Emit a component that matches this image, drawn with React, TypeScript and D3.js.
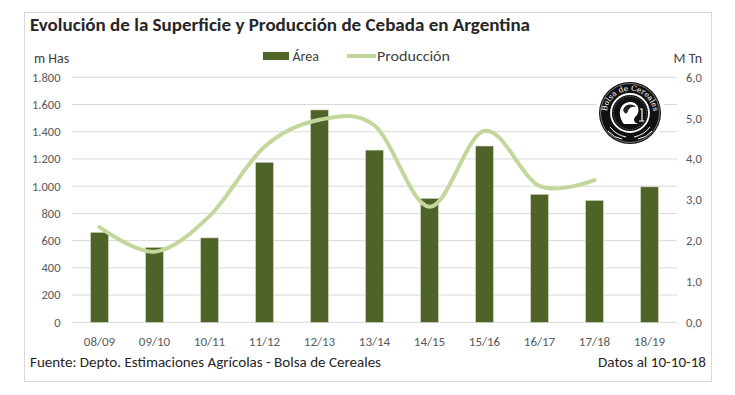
import React, { useEffect, useRef } from "react";
import * as d3 from "d3";

const categories = ["08/09", "09/10", "10/11", "11/12", "12/13", "13/14", "14/15", "15/16", "16/17", "17/18", "18/19"];
// area in thousand hectares
const area = [660, 550, 620, 1175, 1560, 1265, 910, 1295, 940, 895, 995];
// production in million tonnes (no value for 18/19)
const produccion: (number | null)[] = [2.33, 1.73, 2.6, 4.3, 4.96, 4.82, 2.83, 4.69, 3.34, 3.48, null];
const leftTicks = [0, 200, 400, 600, 800, 1000, 1200, 1400, 1600, 1800];
const rightTicks = [0, 1, 2, 3, 4, 5, 6];

const W = 735;
const H = 395;
const FONT = "Carlito, Lato, 'Open Sans', sans-serif";
const BAR = "#4f6228";
const LINE = "#c3d69b";

const locale = d3.formatLocale({ decimal: ",", thousands: ".", grouping: [3], currency: ["", ""] });

const App = () => {
  const svgRef = useRef<SVGSVGElement>(null);

  useEffect(() => {
    const svg = d3.select(svgRef.current);
    svg.selectAll("*").remove();

    const left = 72, right = 677, top = 77.3, bottom = 322.3;

    const x = d3.scaleBand().domain(categories).range([left, right]).paddingInner(0.68).paddingOuter(0.34);
    const yL = d3.scaleLinear().domain([0, 1800]).range([bottom, top]);
    const yR = d3.scaleLinear().domain([0, 6]).range([bottom, top]);
    const cx = (c: string) => (x(c) as number) + x.bandwidth() / 2;

    // frame
    svg.append("rect")
      .attr("x", 24.5).attr("y", 12.5).attr("width", 687).attr("height", 369)
      .attr("fill", "#fff").attr("stroke", "#d9d9d9");

    // gridlines
    svg.append("g")
      .selectAll("line")
      .data(leftTicks)
      .join("line")
      .attr("x1", left).attr("x2", right)
      .attr("y1", (d) => yL(d)).attr("y2", (d) => yL(d))
      .attr("stroke", "#d9d9d9").attr("stroke-width", 1);

    // left tick labels
    const fmtL = locale.format(",");
    svg.append("g")
      .selectAll("text")
      .data(leftTicks)
      .join("text")
      .attr("x", 60.5).attr("y", (d) => yL(d)).attr("dy", "0.35em")
      .attr("text-anchor", "end")
      .attr("font-family", FONT).attr("font-size", 12.5).attr("fill", "#595959")
      .text((d) => fmtL(d));

    // right tick labels
    const fmtR = locale.format(",.1f");
    svg.append("g")
      .selectAll("text")
      .data(rightTicks)
      .join("text")
      .attr("x", 686).attr("y", (d) => yR(d)).attr("dy", "0.35em")
      .attr("font-family", FONT).attr("font-size", 12.5).attr("fill", "#595959")
      .text((d) => fmtR(d));

    // category labels
    svg.append("g")
      .selectAll("text")
      .data(categories)
      .join("text")
      .attr("x", (d) => cx(d)).attr("y", 346)
      .attr("text-anchor", "middle")
      .attr("font-family", FONT).attr("font-size", 13).attr("fill", "#595959")
      .text((d) => d);

    // bars
    svg.append("g")
      .selectAll("rect")
      .data(categories)
      .join("rect")
      .attr("x", (d) => x(d) as number)
      .attr("y", (d, i) => yL(area[i]))
      .attr("width", x.bandwidth())
      .attr("height", (d, i) => bottom - yL(area[i]))
      .attr("fill", BAR)
      .attr("stroke", "#c9d1b8").attr("stroke-width", 0.6);

    // production line
    const line = d3.line<number | null>()
      .defined((d) => d !== null)
      .x((d, i) => cx(categories[i]))
      .y((d) => yR(d as number))
      .curve(d3.curveCardinal.tension(0));

    svg.append("path")
      .datum(produccion)
      .attr("fill", "none")
      .attr("stroke", LINE)
      .attr("stroke-width", 4)
      .attr("stroke-linecap", "round")
      .attr("d", line);

    // axis titles
    svg.append("text")
      .attr("x", 34).attr("y", 63)
      .attr("font-family", FONT).attr("font-size", 14).attr("fill", "#404040")
      .text("m Has");
    svg.append("text")
      .attr("x", 702).attr("y", 63).attr("text-anchor", "end")
      .attr("font-family", FONT).attr("font-size", 14).attr("fill", "#404040")
      .text("M Tn");

    // title
    svg.append("text")
      .attr("x", 30).attr("y", 31)
      .attr("font-family", FONT).attr("font-size", 18).attr("font-weight", "bold").attr("fill", "#262626")
      .attr("textLength", 500).attr("lengthAdjust", "spacingAndGlyphs")
      .text("Evolución de la Superficie y Producción de Cebada en Argentina");

    // legend
    svg.append("rect")
      .attr("x", 263).attr("y", 52).attr("width", 26).attr("height", 8)
      .attr("fill", BAR);
    svg.append("text")
      .attr("x", 292.5).attr("y", 61)
      .attr("font-family", FONT).attr("font-size", 14).attr("fill", "#404040")
      .text("Área");
    svg.append("line")
      .attr("x1", 347).attr("x2", 376).attr("y1", 56).attr("y2", 56)
      .attr("stroke", LINE).attr("stroke-width", 4);
    svg.append("text")
      .attr("x", 377).attr("y", 61)
      .attr("font-family", FONT).attr("font-size", 14).attr("fill", "#404040")
      .attr("textLength", 73).attr("lengthAdjust", "spacingAndGlyphs")
      .text("Producción");

    // footer
    svg.append("text")
      .attr("x", 30).attr("y", 367)
      .attr("font-family", FONT).attr("font-size", 14).attr("fill", "#262626")
      .attr("textLength", 351).attr("lengthAdjust", "spacingAndGlyphs")
      .text("Fuente: Depto. Estimaciones Agrícolas - Bolsa de Cereales");
    svg.append("text")
      .attr("x", 598).attr("y", 367)
      .attr("font-family", FONT).attr("font-size", 14).attr("fill", "#262626")
      .attr("textLength", 108).attr("lengthAdjust", "spacingAndGlyphs")
      .text("Datos al 10-10-18");

    // logo seal
    const logo = svg.append("g").attr("transform", "translate(630,113)");
    logo.append("circle").attr("r", 35).attr("fill", "#fff");
    logo.append("circle").attr("r", 31).attr("fill", "#111");
    logo.append("circle").attr("r", 29.5).attr("fill", "none").attr("stroke", "#bbb").attr("stroke-width", 0.6);
    logo.append("circle").attr("r", 19).attr("fill", "none").attr("stroke", "#fff").attr("stroke-width", 1.8);
    logo.append("circle").attr("r", 16.5).attr("fill", "none").attr("stroke", "#ddd").attr("stroke-width", 0.5).attr("stroke-dasharray", "1,1.5");
    logo.append("path").attr("id", "sealArc")
      .attr("d", "M -23,6 A 23.5 23.5 0 1 1 23,6")
      .attr("fill", "none");
    logo.append("text")
      .attr("font-family", "'DejaVu Serif', serif").attr("font-size", 7.5).attr("fill", "#fff")
      .append("textPath")
      .attr("href", "#sealArc").attr("startOffset", "50%").attr("text-anchor", "middle")
      .text("Bolsa de Cereales");
    // head silhouette
    logo.append("path")
      .attr("d", "M -9,6 C -12,-2 -9,-10 -1,-11 C 6,-12 10,-6 8,0 C 7,3 4,4 4,7 C 4,9 6,10 8,11 L -6,11 C -8,9 -8,8 -9,6 Z")
      .attr("fill", "#fff");
    logo.append("path")
      .attr("d", "M -7,-3 C -5,-9 2,-10 6,-6 C 3,-7 -1,-6 -2,-2 C -3,1 -5,2 -7,-3 Z")
      .attr("fill", "#222");
    logo.append("path")
      .attr("d", "M 10,-4 L 12,-4 L 12,8 M 9,8 L 14,8")
      .attr("stroke", "#fff").attr("stroke-width", 1.2).attr("fill", "none");
    // decorative leaves at the bottom
    logo.append("g")
      .selectAll("path")
      .data([-1, 1])
      .join("path")
      .attr("d", (s) => `M ${s * 4},24 Q ${s * 14},22 ${s * 20},14 M ${s * 8},26 Q ${s * 16},25 ${s * 22},18`)
      .attr("stroke", "#fff").attr("stroke-width", 1).attr("fill", "none");
  }, []);

  return (
    <svg
      ref={svgRef}
      width={W}
      height={H}
      style={{ position: "absolute", left: 0, top: 0, display: "block", background: "#fff" }}
    />
  );
};

export default App;
